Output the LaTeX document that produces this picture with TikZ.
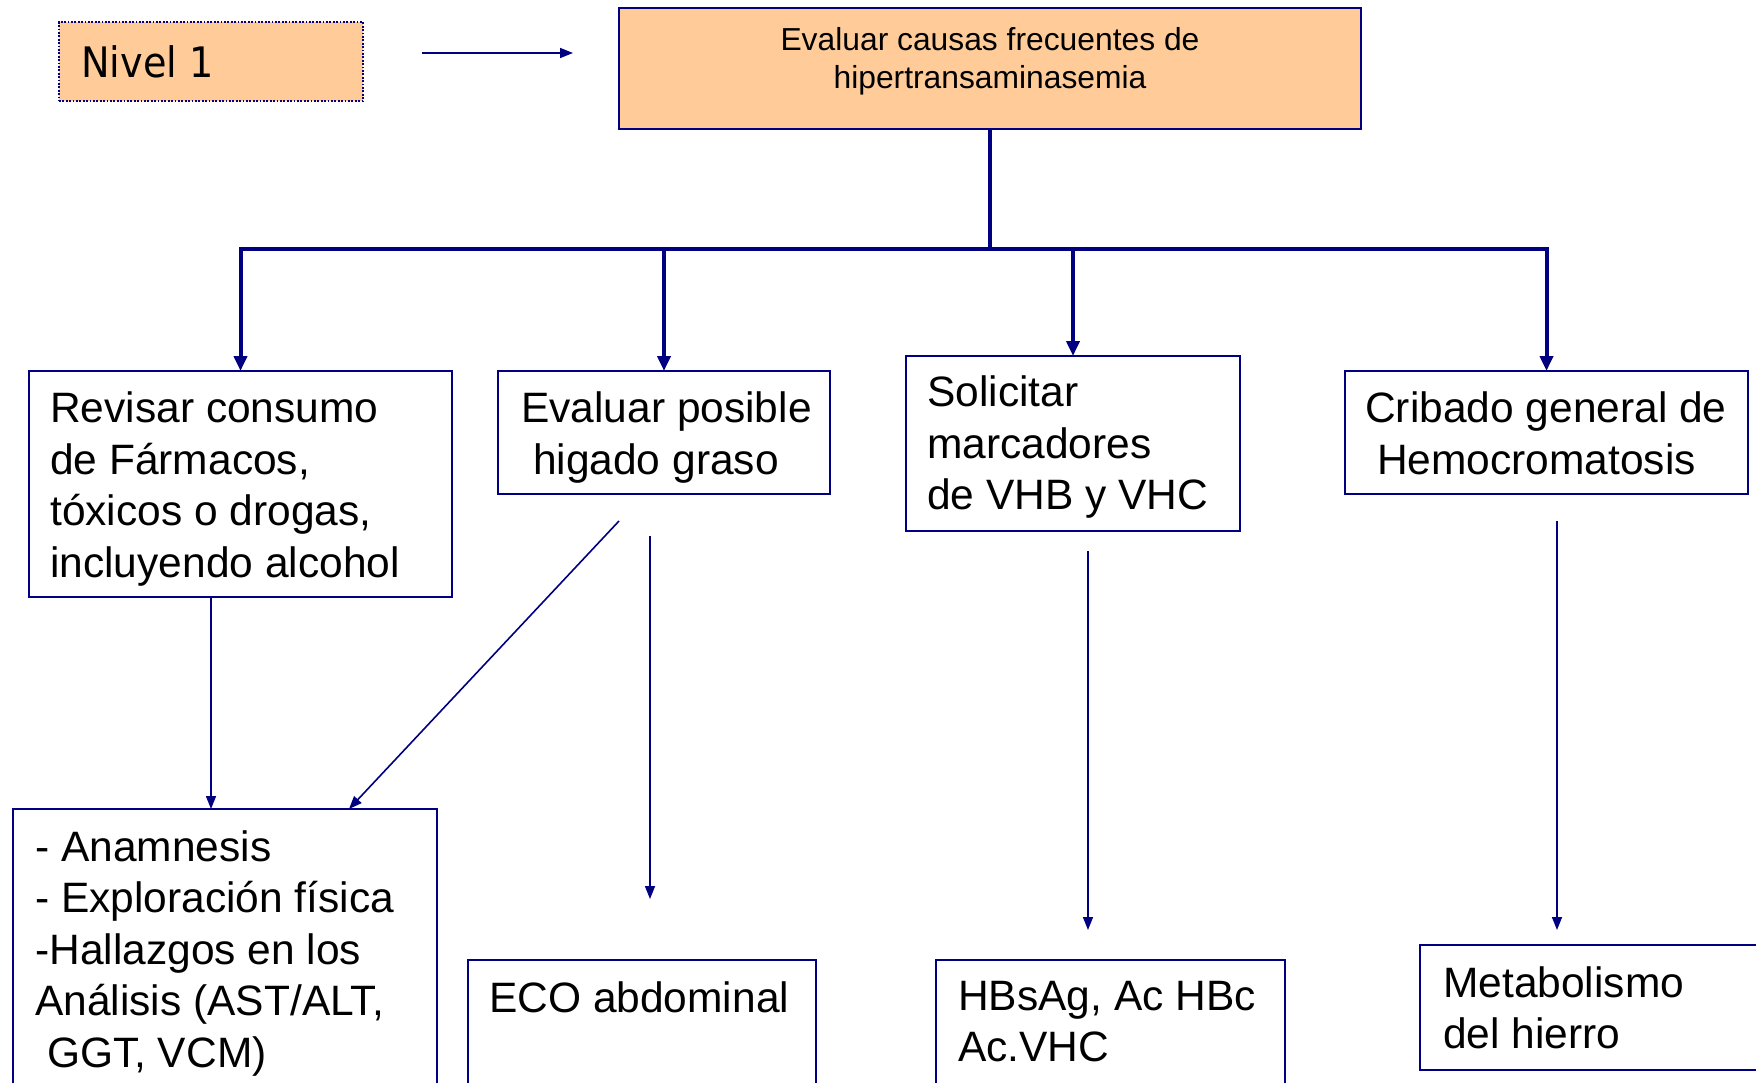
\documentclass[tikz,border=0pt]{standalone}
\usepackage{fontspec}
\setmainfont{Liberation Sans}
\newfontfamily\nivelfont{DejaVu Sans}
\usetikzlibrary{arrows.meta,calc}
\definecolor{navyline}{RGB}{0,0,128}
\definecolor{peach}{RGB}{255,204,153}
\begin{document}
\begin{tikzpicture}[x=1pt,y=-1pt,
  box/.style={draw=navyline, line width=2pt, inner sep=0pt, outer sep=0pt, anchor=north west},
  txt/.style={font=\fontsize{42.5}{51.5}\selectfont, align=left, inner sep=0pt, anchor=north west, text=black},
  thinarrow/.style={draw=navyline, line width=1.6pt, -{Triangle[length=13pt,width=10pt]}},
  thickline/.style={draw=navyline, line width=4pt},
  thickarrow/.style={draw=navyline, line width=4pt, line join=miter, -{Triangle[length=15pt,width=13pt]}}]
\useasboundingbox (0,0) rectangle (1756,1083);
\clip (0,0) rectangle (1756,1083);

% Level label
\node[box, fill=peach, draw=navyline, line width=1.8pt, dash pattern=on 1.8pt off 1.6pt, minimum width=304pt, minimum height=79pt] (nivel) at (59,22) {};
\node[anchor=west, inner sep=0pt, font=\nivelfont\fontsize{42}{50}\selectfont] (niveltxt) at (81,62) {\scalebox{0.91}[1]{Nivel 1}};
\coordinate (n1) at (422,53);
\coordinate (n2) at (573,53);
\draw[thinarrow] (n1) -- (n2);

% Main box
\node[box, fill=peach, minimum width=742pt, minimum height=121pt] (main) at (619,8) {};
\node[font=\fontsize{31.8}{38}\selectfont, align=center, anchor=north, inner sep=0pt] (maintxt) at (990,27) {Evaluar causas frecuentes de\\hipertransaminasemia};

% Row 2
\node[box, minimum width=423pt, minimum height=226pt] (A) at (29,371) {};
\node[box, minimum width=332pt, minimum height=123pt] (B) at (498,371) {};
\node[box, minimum width=334pt, minimum height=175pt] (C) at (906,356) {};
\node[box, minimum width=403pt, minimum height=123pt] (D) at (1345,371) {};
\node[txt] (tA) at (50,392) {Revisar consumo\\de Fármacos,\\tóxicos o drogas,\\incluyendo alcohol};
\node[txt] (tB) at (521,392) {Evaluar posible\\\hspace*{0.278em}higado graso};
\node[txt] (tC) at (927,376) {Solicitar\\marcadores\\de VHB y VHC};
\node[txt] (tD) at (1365,392) {Cribado general de\\\hspace*{0.278em}Hemocromatosis};

% Row 3
\node[box, minimum width=424pt, minimum height=300pt] (E) at (13,809) {};
\node[box, minimum width=348pt, minimum height=150pt] (F) at (468,960) {};
\node[box, minimum width=349pt, minimum height=150pt] (G) at (936,960) {};
\node[box, minimum width=360pt, minimum height=125pt] (H) at (1420,945) {};
\node[txt] (tE) at (35,830) {- Anamnesis\\- Exploración física\\-Hallazgos en los\\Análisis (AST/ALT,\\\hspace*{0.278em}GGT, VCM)};
\node[txt] (tF) at (489,981) {ECO abdominal};
\node[txt] (tG) at (958,981) {HBsAg, Ac HBc\\Ac.VHC};
\node[txt] (tH) at (1443,966) {Metabolismo\\del hierro};

% Trunk
\coordinate (j) at ($(main.south)+(0,120)$);
\draw[thickline] (main.south) -- (j);
\foreach \n in {A,B,C,D} \draw[thickarrow] (j) -| (\n.north);

% Row 2 -> row 3
\draw[thinarrow] ([xshift=182pt]A.south west) -- ([xshift=198pt]E.north west);
\coordinate (bs1) at (619,521);
\draw[thinarrow] (bs1) -- ([xshift=336pt]E.north west);
\coordinate (bs2) at (650,536);
\coordinate (be2) at (650,899);
\draw[thinarrow] (bs2) -- (be2);
\coordinate (cs) at (1088,551);
\coordinate (ce) at (1088,930);
\draw[thinarrow] (cs) -- (ce);
\coordinate (ds) at (1557,521);
\coordinate (de) at (1557,930);
\draw[thinarrow] (ds) -- (de);
\end{tikzpicture}
\end{document}
